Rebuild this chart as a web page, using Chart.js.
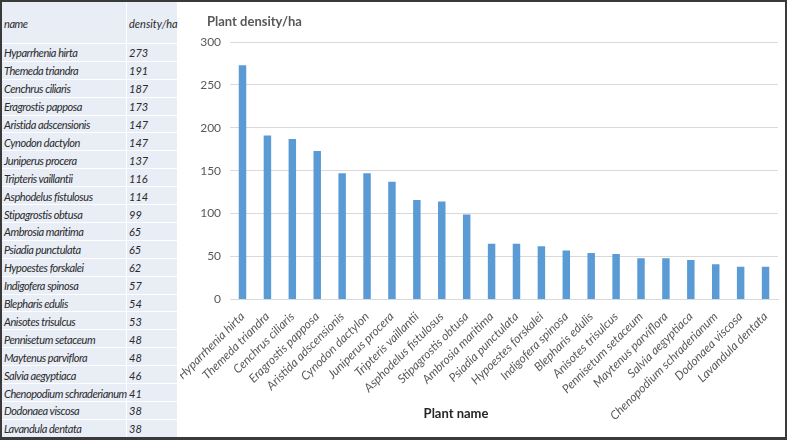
<!DOCTYPE html>
<html><head><meta charset="utf-8">
<script src="https://cdn.jsdelivr.net/npm/chart.js@4"></script>
<style>
html,body{margin:0;padding:0;background:#fff;}
#frame{position:absolute;left:0;top:0;width:783px;height:435px;border:2px solid #3a3a3a;border-bottom-width:3px;background:#fff;overflow:hidden;}
#tbl{position:absolute;left:0;top:0;width:175px;height:435px;background:#e8edf6;font-family:Lato,"Open Sans",sans-serif;font-style:italic;font-size:11px;letter-spacing:-0.45px;color:#2a2a2a;}
.row{position:absolute;left:0;width:175px;border-bottom:1px solid #fff;box-sizing:border-box;}
.row span{position:absolute;top:50%;transform:translateY(-50%);white-space:nowrap;}
.row .n{left:2px;}
.row .v{left:127px;letter-spacing:0;}
#vline{position:absolute;left:124px;top:0;width:1px;height:435px;background:#fff;}
#wrap{position:absolute;left:178px;top:0;width:605px;height:435px;}
</style></head>
<body>
<div id="frame">
<div id="tbl"><div id="vline"></div></div>
<div id="wrap"><canvas id="c"></canvas></div>
</div>
<script>
const plantNames = ["Hyparrhenia hirta","Themeda triandra","Cenchrus ciliaris","Eragrostis papposa","Aristida adscensionis","Cynodon dactylon","Juniperus procera","Tripteris vaillantii","Asphodelus fistulosus","Stipagrostis obtusa","Ambrosia maritima","Psiadia punctulata","Hypoestes forskalei","Indigofera spinosa","Blepharis edulis","Anisotes trisulcus","Pennisetum setaceum","Maytenus parviflora","Salvia aegyptiaca","Chenopodium schraderianum","Dodonaea viscosa","Lavandula dentata"];
const densities = [273,191,187,173,147,147,137,116,114,99,65,65,62,57,54,53,48,48,46,41,38,38];
const yTicks = [0,50,100,150,200,250,300];
const tableHeader = ["name","density/ha"];
const chartTitle = "Plant density/ha";
const xAxisTitle = "Plant name";

// table rows
const tbl = document.getElementById('tbl');
const headerH = 42, rowH = 17.9;
function addRow(a, b, top, h){
  const r = document.createElement('div'); r.className='row';
  r.style.top = top+'px'; r.style.height = h+'px';
  r.innerHTML = '<span class="n">'+a+'</span><span class="v">'+b+'</span>';
  tbl.appendChild(r);
}
addRow(tableHeader[0], tableHeader[1], 0, headerH);
plantNames.forEach((n,i)=> addRow(n, densities[i], headerH + i*rowH, rowH));

const font = "Lato, 'Open Sans', sans-serif";
const titlesPlugin = {
  id: 'titles',
  afterDraw(chart){
    const ctx = chart.ctx, a = chart.chartArea;
    ctx.save();
    ctx.textBaseline = 'middle';
    ctx.fillStyle = '#595959';
    ctx.font = "bold 13px " + font;
    ctx.textAlign = 'left';
    ctx.fillText(chartTitle, 27, 20);
    ctx.fillStyle = '#262626';
    ctx.textAlign = 'center';
    ctx.fillText(xAxisTitle, (a.left + a.right)/2 - 48, a.bottom + 114);
    ctx.restore();
  }
};
new Chart(document.getElementById('c'), {
  type: 'bar',
  data: { labels: plantNames, datasets: [{ data: densities, backgroundColor: '#5b9bd5', barPercentage: 0.6, categoryPercentage: 0.5 }] },
  options: {
    responsive: true, maintainAspectRatio: false, animation: false,
    devicePixelRatio: 1,
    layout: { padding: { left: 0, right: 7, top: 40, bottom: 12 } },
    plugins: { legend: { display: false }, tooltip: { enabled: false }, title: { display: false } },
    scales: {
      x: {
        afterFit: s => { s.paddingLeft = Math.max(0, s.paddingLeft - 3); },
        grid: { display: false }, border: { color: '#d9d9d9' },
        ticks: { color: '#595959', font: { family: font, size: 12, style: 'italic' }, minRotation: 45, maxRotation: 45, autoSkip: false, padding: 2 }
      },
      y: {
        min: 0, max: 300, afterBuildTicks: s => { s.ticks = yTicks.map(v => ({ value: v })); },
        grid: { color: '#d9d9d9', drawTicks: false }, border: { display: false },
        ticks: { color: '#595959', font: { family: font, size: 12 }, padding: 9 }
      }
    }
  },
  plugins: [titlesPlugin]
});
</script>
</body></html>
